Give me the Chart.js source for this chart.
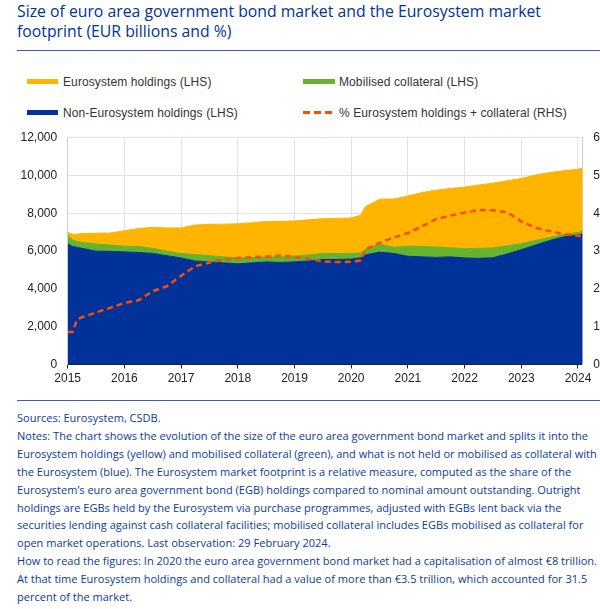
<!DOCTYPE html>
<html>
<head>
<meta charset="utf-8">
<script src="https://cdn.jsdelivr.net/npm/chart.js@4.4.1/dist/chart.umd.min.js"></script>
<style>
html,body{margin:0;padding:0;background:#fff;}
body{width:600px;height:609px;overflow:hidden;position:relative;font-family:"Open Sans",sans-serif;}
#title{position:absolute;left:17px;top:1px;font-size:17px;line-height:19.6px;color:#003299;white-space:nowrap;transform-origin:0 0;}
.rule{position:absolute;left:17px;width:600px;height:1px;background:#3a5fb2;}
.sw{position:absolute;height:5px;}
.lg{position:absolute;font-family:"Liberation Sans",Arial,sans-serif;font-size:12px;line-height:14px;color:#333;white-space:nowrap;letter-spacing:0.1px;}
#wrap{position:absolute;left:0;top:120px;width:607px;height:275px;}
#notes{position:absolute;left:17px;top:409px;font-size:11.5px;line-height:17.9px;color:#0b3a9a;white-space:nowrap;transform-origin:0 0;}
</style>
</head>
<body>

<div id="title">Size of euro area government bond market and the Eurosystem market<br>footprint (EUR billions and %)</div>
<div class="rule" style="top:50px"></div>

<div class="sw" style="left:27px;top:79px;width:31px;background:#ffb400"></div>
<div class="lg" style="left:63px;top:75px">Eurosystem holdings (LHS)</div>
<div class="sw" style="left:303px;top:79px;width:32px;background:#65b32e"></div>
<div class="lg" style="left:339px;top:75px">Mobilised collateral (LHS)</div>
<div class="sw" style="left:27px;top:110px;width:31px;background:#003299"></div>
<div class="lg" style="left:63px;top:106px">Non-Eurosystem holdings (LHS)</div>
<svg style="position:absolute;left:303px;top:110px" width="33" height="5"><line x1="0" y1="2.5" x2="33" y2="2.5" stroke="#ff4b00" stroke-width="3" stroke-dasharray="7,4"/></svg>
<div class="lg" style="left:339px;top:106px">% Eurosystem holdings + collateral (RHS)</div>

<div id="wrap"><canvas id="chart" width="607" height="275"></canvas></div>

<div class="rule" style="top:400px"></div>
<div id="notes">Sources: Eurosystem, CSDB.<br>
Notes: The chart shows the evolution of the size of the euro area government bond market and splits it into the<br>
Eurosystem holdings (yellow) and mobilised collateral (green), and what is not held or mobilised as collateral with<br>
the Eurosystem (blue). The Eurosystem market footprint is a relative measure, computed as the share of the<br>
Eurosystem’s euro area government bond (EGB) holdings compared to nominal amount outstanding. Outright<br>
holdings are EGBs held by the Eurosystem via purchase programmes, adjusted with EGBs lent back via the<br>
securities lending against cash collateral facilities; mobilised collateral includes EGBs mobilised as collateral for<br>
open market operations. Last observation: 29 February 2024.<br>
<span id="widest">How to read the figures: In 2020 the euro area government bond market had a capitalisation of almost €8 trillion.</span><br>
At that time Eurosystem holdings and collateral had a value of more than €3.5 trillion, which accounted for 31.5<br>
percent of the market.</div>

<script>
const months = ["2015-01","2015-02","2015-03","2015-04","2015-07","2015-10",
"2016-01","2016-04","2016-07","2016-10",
"2017-01","2017-04","2017-07","2017-10",
"2018-01","2018-04","2018-07","2018-10",
"2019-01","2019-04","2019-07","2019-10",
"2020-01","2020-03","2020-04","2020-07","2020-10",
"2021-01","2021-04","2021-07","2021-10",
"2022-01","2022-04","2022-07","2022-10",
"2023-01","2023-04","2023-07","2023-10",
"2024-01","2024-02"];

const nonEurosystem = [6390,6250,6200,6150,6000,5990,
5960,5930,5880,5760,
5640,5480,5430,5380,
5330,5380,5430,5400,
5430,5480,5560,5560,
5580,5650,5800,5950,5880,
5730,5700,5670,5700,
5640,5620,5650,5850,
6080,6320,6560,6760,
6850,6900];

const collateral = [440,350,300,320,380,330,
300,320,270,240,
230,340,330,320,
310,280,260,290,
310,320,320,310,
300,250,300,430,320,
530,550,550,480,
490,530,520,430,
320,240,160,120,
140,160];

const eurosystem = [160,300,400,460,570,640,
820,950,1110,1230,
1360,1560,1660,1730,
1810,1840,1880,1890,
1860,1860,1840,1860,
1880,2000,2250,2370,2560,
2660,2850,3010,3140,
3260,3350,3430,3440,
3450,3470,3440,3380,
3340,3340];

const footprint = [8.6,8.6,11.9,12.5,13.8,15.0,
16.3,17.0,19.4,20.7,
23.5,26.0,27.0,27.8,
28.2,28.4,28.6,28.8,
28.5,28.0,27.3,27.1,
27.2,27.5,30.5,32.2,33.6,
34.8,36.6,38.5,39.4,
40.2,40.9,40.8,40.3,
37.9,36.2,35.3,34.5,
34.1,34.0];

const years = [2015,2016,2017,2018,2019,2020,2021,2022,2023,2024];

const xs = months.map(m => +m.slice(0,4) + (+m.slice(5) - 1) / 12);
const pts = arr => xs.map((x, i) => ({x: x, y: arr[i]}));

// fit text widths to the reference
const notes = document.getElementById("notes");
const w = document.getElementById("widest").getBoundingClientRect().width;
notes.style.transform = "scaleX(" + (580 / w) + ")";
const title = document.getElementById("title");
const tw = title.getBoundingClientRect().width;
title.style.transform = "scaleX(" + (524 / tw) + ")";

const tickFont = {family: "Liberation Sans, Arial, sans-serif", size: 12};

new Chart(document.getElementById("chart"), {
  type: "line",
  data: {
    datasets: [
      {label: "Non-Eurosystem holdings (LHS)", data: pts(nonEurosystem), backgroundColor: "#003299", borderColor: "#003299",
       borderWidth: 1, fill: "origin", pointRadius: 0, yAxisID: "y", order: 1},
      {label: "Mobilised collateral (LHS)", data: pts(collateral), backgroundColor: "#65b32e", borderColor: "#65b32e",
       borderWidth: 1, fill: "-1", pointRadius: 0, yAxisID: "y", order: 1},
      {label: "Eurosystem holdings (LHS)", data: pts(eurosystem), backgroundColor: "#ffb400", borderColor: "#ffb400",
       borderWidth: 1, fill: "-1", pointRadius: 0, yAxisID: "y", order: 1},
      {label: "% Eurosystem holdings + collateral (RHS)", data: pts(footprint), borderColor: "#ff4b00",
       borderWidth: 2.5, borderDash: [6, 4], fill: false, pointRadius: 0, yAxisID: "y2", order: 0}
    ]
  },
  options: {
    responsive: false,
    animation: false,
    layout: {padding: {top: 17.5, left: 0, right: 0, bottom: 0}},
    plugins: {legend: {display: false}, tooltip: {enabled: false}},
    scales: {
      x: {
        type: "linear", min: 2015, max: 2024 + 1 / 12,
        afterBuildTicks: s => { s.ticks = years.map(v => ({value: v})); },
        afterFit: s => { s.height = 30.5; },
        ticks: {autoSkip: false, maxRotation: 0, padding: 3, color: "#222", font: tickFont,
                callback: v => String(v)},
        grid: {color: "#e2e2e2", tickColor: "#222", tickLength: 4},
        border: {color: "#222"}
      },
      y: {
        stacked: true, min: 0, max: 12000,
        afterFit: s => { s.width = 67.7; },
        ticks: {stepSize: 2000, padding: 10.5, color: "#222", font: tickFont},
        grid: {color: "#e2e2e2", drawTicks: false},
        border: {color: "#cfcfcf"}
      },
      y2: {
        position: "right", min: 0, max: 60,
        afterFit: s => { s.width = 24.3; },
        ticks: {stepSize: 10, padding: 10.6, color: "#222", font: tickFont},
        grid: {drawOnChartArea: false, drawTicks: false},
        border: {color: "#cfcfcf"}
      }
    }
  }
});
</script>
</body>
</html>
